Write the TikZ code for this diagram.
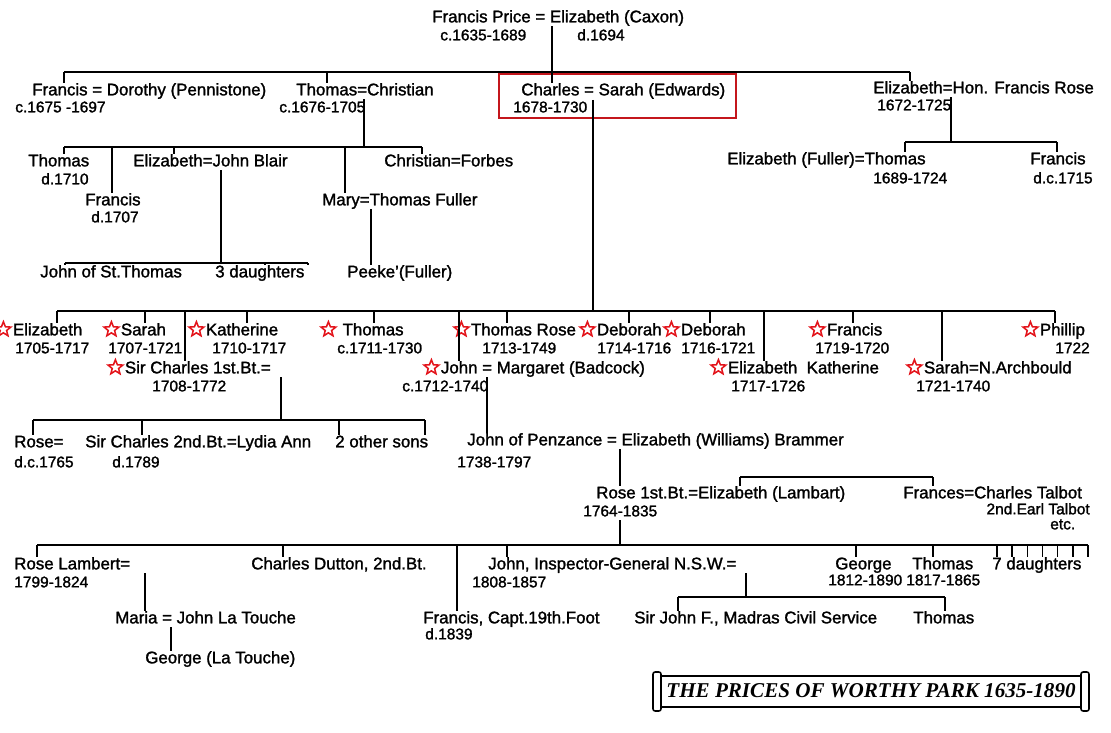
\documentclass[tikz,border=0pt]{standalone}
\usepackage{fontspec}
\setmainfont{Liberation Sans}[FakeBold=1.5]
\newfontfamily\titlefont{Liberation Serif}
\usetikzlibrary{positioning,calc,shapes.geometric}

\definecolor{starred}{HTML}{E3141B}
\definecolor{boxred}{HTML}{C4161C}
\newcommand{\st}{\tikz[baseline=-4.2pt]\node[star,star point ratio=2.3,draw=starred,line width=1.1pt,inner sep=0pt,minimum size=11pt]{};\hspace{1pt}}

\begin{document}
\begin{tikzpicture}[x=0.025cm,y=-0.025cm,
  nm/.style={anchor=west,inner sep=0pt,text height=8.6pt,text depth=2.4pt,font=\fontsize{12}{14}\selectfont},
  dt/.style={nm,font=\fontsize{11}{13}\selectfont},
  ln/.style={line width=1.1pt}]

  \useasboundingbox (0,0) rectangle (1111,732);

  % Francis Price and children
  \node[nm] (fp)  at (432,18) {Francis Price = Elizabeth (Caxon)};
  \node[dt] (fpa) at (440,36) {c.1635-1689};
  \node[dt] (fpb) at (577,36) {d.1694};

  \node[nm] (fr)  at (32,91)  {Francis = Dorothy (Pennistone)};
  \node[dt] (fra) at (15,108) {c.1675 -1697};
  \node[nm] (th)  at (296,91) {Thomas=Christian};
  \node[dt] (tha) at (279,108) {c.1676-1705};
  \node[nm] (ch)  at (521,91) {Charles = Sarah (Edwards)};
  \node[dt] (cha) at (513,108) {1678-1730};
  \node[nm] (el)  at (873,89) {Elizabeth=Hon. Francis Rose};
  \node[dt] (ela) at (877,106) {1672-1725};

  \draw[boxred,line width=1.4pt] (499,74) rectangle (736,118);

  \draw[ln] (552,0 |- fp.south) -- (552,0 |- ch.north);
  \draw[ln] (64,72) -- (910,72);
  \foreach \x/\n in {64/fr,327/th,910/el}
    \draw[ln] (\x,72) -- (\x,0 |- \n.north);

  % Thomas = Christian
  \node[nm] (tt2)  at (28,162) {Thomas};
  \node[dt] (tt2a) at (41,180) {d.1710};
  \node[nm] (fr2)  at (85,201) {Francis};
  \node[dt] (fr2a) at (91,218) {d.1707};
  \node[nm] (eb)   at (133,162) {Elizabeth=John Blair};
  \node[nm] (cf)   at (384,162) {Christian=Forbes};
  \node[nm] (mf)   at (322,201) {Mary=Thomas Fuller};
  \node[nm] (js)   at (40,273) {John of St.Thomas};
  \node[nm] (dg)   at (215,273) {3 daughters};
  \node[nm] (pk)   at (347,273) {Peeke'(Fuller)};

  \draw[ln] (364,0 |- th.south) -- (364,147);
  \draw[ln] (64,147) -- (422,147);
  \foreach \x/\n in {64/tt2,112/fr2,174/eb,345/mf,422/cf}
    \draw[ln] (\x,147) -- (\x,0 |- \n.north);
  \draw[ln] (221,0 |- eb.south) -- (221,263);
  \draw[ln] (65,263) -- (308,263);
  \foreach \x/\n in {65/js,265/dg,308/dg}
    \draw[ln] (\x,263) -- (\x,0 |- \n.north);
  \draw[ln] (371,0 |- mf.south) -- (371,0 |- pk.north);

  % Elizabeth = Hon. Francis Rose
  \node[nm] (ef)  at (727,160) {Elizabeth (Fuller)=Thomas};
  \node[dt] (efa) at (873,179) {1689-1724};
  \node[nm] (fr4)  at (1030,160) {Francis};
  \node[dt] (fr4a) at (1033,179) {d.c.1715};

  \draw[ln] (951,0 |- el.south) -- (951,142);
  \draw[ln] (905,142) -- (1057,142);
  \foreach \x/\n in {905/ef,1057/fr4}
    \draw[ln] (\x,142) -- (\x,0 |- \n.north);

  % Charles = Sarah, the children
  \node[nm] (e3)  at (-5,331) {\st Elizabeth};
  \node[dt] (e3a) at (15,349) {1705-1717};
  \node[nm] (s3)  at (103,331) {\st Sarah};
  \node[dt] (s3a) at (108,349) {1707-1721};
  \node[nm] (k3)  at (188,331) {\st Katherine};
  \node[dt] (k3a) at (212,349) {1710-1717};
  \node[nm] (t3)  at (320,331) {\st\ Thomas};
  \node[dt] (t3a) at (337,349) {c.1711-1730};
  \node[nm] (tr)  at (453,331) {\st Thomas Rose};
  \node[dt] (tra) at (482,349) {1713-1749};
  \node[nm] (da)  at (579,331) {\st Deborah};
  \node[dt] (daa) at (597,349) {1714-1716};
  \node[nm] (db)  at (663,331) {\st Deborah};
  \node[dt] (dba) at (681,349) {1716-1721};
  \node[nm] (f3)  at (809,331) {\st Francis};
  \node[dt] (f3a) at (815,349) {1719-1720};
  \node[nm] (ph)  at (1022,331) {\st Phillip};
  \node[dt] (pha) at (1055,349) {1722};

  \node[nm] (sc)  at (107,369) {\st Sir Charles 1st.Bt.=};
  \node[dt] (sca) at (152,387) {1708-1772};
  \node[nm] (jm)  at (423,369) {\st John = Margaret (Badcock)};
  \node[dt] (jma) at (402,387) {c.1712-1740};
  \node[nm] (ek)  at (710,369) {\st Elizabeth\ \ Katherine};
  \node[dt] (eka) at (731,387) {1717-1726};
  \node[nm] (sa)  at (906,369) {\st Sarah=N.Archbould};
  \node[dt] (saa) at (916,387) {1721-1740};

  \draw[ln] (593,0 |- cha.north) -- (593,311);
  \draw[ln] (57,311) -- (1055,311);
  \foreach \x/\n in {57/e3,145/s3,185/sc,247/k3,374/t3,459/jm,507/tr,629/da,710/db,764/ek,853/f3,942/sa,1055/ph}
    \draw[ln] (\x,311) -- (\x,0 |- \n.north);

  % Sir Charles 1st Bt.
  \node[nm] (rs)   at (14,443) {Rose=};
  \node[dt] (rsa)  at (14,463) {d.c.1765};
  \node[nm] (sc2)  at (85,443) {Sir Charles 2nd.Bt.=Lydia Ann};
  \node[dt] (sc2a) at (112,463) {d.1789};
  \node[nm] (os)   at (335,443) {2 other sons};

  \draw[ln] (281,0 |- sc.south) -- (281,420);
  \draw[ln] (33,420) -- (425,420);
  \foreach \x/\n in {33/rs,142/sc2,339/os,425/os}
    \draw[ln] (\x,420) -- (\x,0 |- \n.north);

  % John = Margaret
  \node[nm] (jp)  at (467,441) {John of Penzance = Elizabeth (Williams) Brammer};
  \node[dt] (jpa) at (457,463) {1738-1797};
  \node[nm] (r1)  at (596,494) {Rose 1st.Bt.=Elizabeth (Lambart)};
  \node[dt] (r1a) at (583,512) {1764-1835};
  \node[nm] (fc)  at (903,494) {Frances=Charles Talbot};
  \node[dt,anchor=east] (fcb) at (1090,510) {2nd.Earl Talbot};
  \node[dt] (fcc) at (1050,525) {etc.};

  \draw[ln] (487,0 |- jm.south) -- (487,0 |- jp.north);
  \draw[ln] (620,0 |- jp.south) -- (620,0 |- r1.north);
  \draw[ln] (740,477) -- (933,477);
  \foreach \x/\n in {740/r1,933/fc}
    \draw[ln] (\x,477) -- (\x,0 |- \n.north);

  % Rose 1st Bt. = Elizabeth (Lambart)
  \node[nm] (rl)  at (14,565) {Rose Lambert=};
  \node[dt] (rla) at (14,583) {1799-1824};
  \node[nm] (ma)  at (115,619) {Maria = John La Touche};
  \node[nm] (gl)  at (145,659) {George (La Touche)};
  \node[nm] (cd)  at (251,565) {Charles Dutton, 2nd.Bt.};
  \node[nm] (fcp) at (423,619) {Francis, Capt.19th.Foot};
  \node[dt] (fcpa) at (425,635) {d.1839};
  \node[nm] (ji)  at (488,565) {John, Inspector-General N.S.W.=};
  \node[dt] (jia) at (472,583) {1808-1857};
  \node[nm] (sj)  at (634,619) {Sir John F., Madras Civil Service};
  \node[nm] (t6)  at (913,619) {Thomas};
  \node[nm] (gg)  at (835,565) {George};
  \node[dt] (gga) at (828,581) {1812-1890};
  \node[nm] (t5)  at (912,565) {Thomas};
  \node[dt] (t5a) at (906,581) {1817-1865};
  \node[nm] (sd)  at (992,565) {7 daughters};

  \draw[ln] (620,0 |- r1a.south) -- (620,545);
  \draw[ln] (37,545) -- (1088,545);
  \foreach \x/\n in {37/rl,283/cd,457/fcp,507/ji,856/gg,933/t5}
    \draw[ln] (\x,545) -- (\x,0 |- \n.north);
  \foreach \i [evaluate=\i as \x using 997+15.17*\i] in {0,...,6}
    \draw[ln] (\x,545) -- (\x,0 |- sd.north);
  \draw[ln] (145,0 |- rl.south) -- (145,0 |- ma.north);
  \draw[ln] (171,0 |- ma.south) -- (171,0 |- gl.north);
  \draw[ln] (746,0 |- ji.south) -- (746,597);
  \draw[ln] (678,597) -- (945,597);
  \foreach \x/\n in {678/sj,945/t6}
    \draw[ln] (\x,597) -- (\x,0 |- \n.north);

  % title scroll
  \node[inner sep=0pt,font=\titlefont\bfseries\itshape\fontsize{15}{17}\selectfont] (ttl) at (871,691) {THE PRICES OF WORTHY PARK 1635-1890};
  \draw[ln] (661,676) rectangle (1081,707);
  \draw[ln,rounded corners=1.5pt] (653,672) rectangle (661,711);
  \draw[ln,rounded corners=1.5pt] (1081,672) rectangle (1089,711);

\end{tikzpicture}
\end{document}
